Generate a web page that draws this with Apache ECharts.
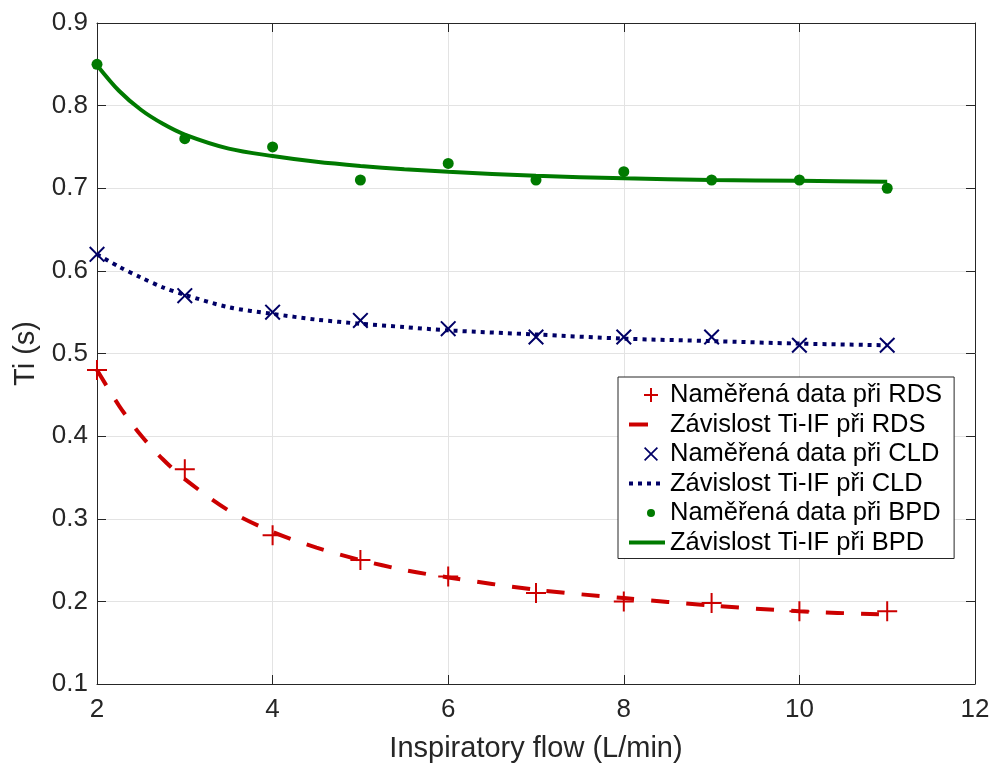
<!DOCTYPE html>
<html>
<head>
<meta charset="utf-8">
<script src="https://cdn.jsdelivr.net/npm/echarts@6/dist/echarts.min.js"></script>
<style>
html,body{margin:0;padding:0;background:#fff;}
#c{width:995px;height:769px;}
</style>
</head>
<body>
<div id="c"></div>
<script>
// ---- data ----
const flowMeasured = [2, 3, 4, 5, 6, 7, 8, 9, 10, 11];
const rdsMeasured = [0.48, 0.36, 0.28, 0.25, 0.23, 0.21, 0.20, 0.198, 0.188, 0.188];
const cldMeasured = [0.62, 0.57, 0.55, 0.54, 0.53, 0.52, 0.52, 0.52, 0.51, 0.51];
const bpdMeasured = [0.85, 0.76, 0.75, 0.71, 0.73, 0.71, 0.72, 0.71, 0.71, 0.70];

const flowFit = [2, 2.25, 2.5, 2.75, 3, 3.5, 4, 4.5, 5, 5.5, 6, 7, 8, 9, 10, 11];
const rdsFit = [0.480, 0.437, 0.401, 0.372, 0.348, 0.310, 0.284, 0.265, 0.250, 0.238, 0.229, 0.214, 0.204, 0.195, 0.188, 0.184];
const cldFit = [0.620, 0.605, 0.592, 0.580, 0.571, 0.556, 0.548, 0.541, 0.536, 0.532, 0.528, 0.523, 0.518, 0.515, 0.512, 0.510];
const bpdFit = [0.849, 0.818, 0.795, 0.778, 0.765, 0.748, 0.739, 0.732, 0.727, 0.723, 0.720, 0.715, 0.712, 0.710, 0.709, 0.708];

const xTicks = { min: 2, max: 12, interval: 2 };
const yTicks = { min: 0.1, max: 0.9, interval: 0.1 };

const names = [
  'Naměřená data při RDS',
  'Závislost Ti-IF při RDS',
  'Naměřená data při CLD',
  'Závislost Ti-IF při CLD',
  'Naměřená data při BPD',
  'Závislost Ti-IF při BPD'
];
const xName = 'Inspiratory flow (L/min)';
const yName = 'Ti (s)';

// ---- styles ----
const RED = '#CC0000', NAVY = '#000066', GREEN = '#007A00';
const AX = '#262626';
const FONT = '"Liberation Sans", Arial, sans-serif';

const pair = (xs, ys) => xs.map((x, i) => [x, ys[i]]);

const plusPath = 'path://M9,0 h2 v9 h9 v2 h-9 v9 h-2 v-9 h-9 v-2 h9 Z';
const crossPath = 'path://M0,1.41 L1.41,0 L8,6.59 L14.59,0 L16,1.41 L9.41,8 L16,14.59 L14.59,16 L8,9.41 L1.41,16 L0,14.59 L6.59,8 Z';

const PAD = 'M0,0 M36,20 ';
const legPlus = 'path://' + PAD + 'M21,3 h2 v6 h6 v2 h-6 v6 h-2 v-6 h-6 v-2 h6 Z';
const legCross = 'path://' + PAD + 'M15,4.2 L16.2,3 L22,8.8 L27.8,3 L29,4.2 L23.2,10 L29,15.8 L27.8,17 L22,11.2 L16.2,17 L15,15.8 L20.8,10 Z';
const legDot = 'path://' + PAD + 'M26,10 A4,4 0 1 1 18,10 A4,4 0 1 1 26,10 Z';
const legDash = 'path://' + PAD + 'M0,8 h19 v4 h-19 Z';
const legDots = 'path://' + PAD + 'M0,8 h4 v4 h-4 Z M9,8 h4 v4 h-4 Z M18,8 h4 v4 h-4 Z M27,8 h4 v4 h-4 Z';
const legLine = 'path://' + PAD + 'M0,8 h36 v4 h-36 Z';

const legendIcons = [legPlus, legDash, legCross, legDots, legDot, legLine];
const legendColors = [RED, RED, NAVY, NAVY, GREEN, GREEN];

const chart = echarts.init(document.getElementById('c'), null, { renderer: 'canvas' });

const axisCommon = {
  axisLine: { show: true, lineStyle: { color: AX, width: 1 } },
  axisTick: { show: true, inside: true, length: 9, lineStyle: { color: AX } },
};

const option = {
  animation: false,
  backgroundColor: '#fff',
  textStyle: { fontFamily: FONT },
  grid: { left: 97, right: 20, top: 23, bottom: 85, containLabel: false },
  xAxis: [
    Object.assign({
      type: 'value', position: 'bottom',
      min: xTicks.min, max: xTicks.max, interval: xTicks.interval,
      name: xName, nameLocation: 'middle', nameGap: 50,
      nameTextStyle: { fontSize: 29, color: AX, fontFamily: FONT },
      axisLabel: { fontSize: 26, color: AX, margin: 13, fontFamily: FONT },
      splitLine: { show: true, lineStyle: { color: '#e3e3e3', width: 1 } }
    }, axisCommon),
    Object.assign({
      type: 'value', position: 'top',
      min: xTicks.min, max: xTicks.max, interval: xTicks.interval,
      axisLabel: { show: false }, splitLine: { show: false }
    }, axisCommon)
  ],
  yAxis: [
    Object.assign({
      type: 'value', position: 'left',
      min: yTicks.min, max: yTicks.max, interval: yTicks.interval,
      name: yName, nameLocation: 'middle', nameGap: 54, nameRotate: 90,
      nameTextStyle: { fontSize: 29, color: AX, fontFamily: FONT },
      axisLabel: { fontSize: 26, color: AX, margin: 9, fontFamily: FONT,
        formatter: v => v.toFixed(1) },
      splitLine: { show: true, lineStyle: { color: '#e3e3e3', width: 1 } }
    }, axisCommon),
    Object.assign({
      type: 'value', position: 'right',
      min: yTicks.min, max: yTicks.max, interval: yTicks.interval,
      axisLabel: { show: false }, splitLine: { show: false }
    }, axisCommon)
  ],
  legend: {
    orient: 'vertical',
    left: 618, top: 377,
    itemWidth: 36, itemHeight: 20, itemGap: 3.5,
    padding: [5, 12, 3, 11],
    backgroundColor: '#fff',
    borderColor: AX, borderWidth: 1, borderRadius: 0,
    selectedMode: false,
    textStyle: { fontSize: 25.5, lineHeight: 25, color: '#000', fontFamily: FONT },
    itemStyle: { borderWidth: 0 },
    data: names.map((n, i) => ({
      name: n, icon: legendIcons[i],
      itemStyle: { color: legendColors[i], borderWidth: 0 }
    }))
  },
  series: [
    {
      name: names[0], type: 'scatter', data: pair(flowMeasured, rdsMeasured),
      symbol: plusPath, symbolSize: 20, z: 5,
      itemStyle: { color: RED, borderWidth: 0, opacity: 1 }
    },
    {
      name: names[1], type: 'line', data: pair(flowFit, rdsFit),
      symbol: 'none', smooth: 0.3, z: 4,
      lineStyle: { color: RED, width: 4, type: [18, 17], cap: 'butt' },
      itemStyle: { color: RED }
    },
    {
      name: names[2], type: 'scatter', data: pair(flowMeasured, cldMeasured),
      symbol: crossPath, symbolSize: 16, z: 5,
      itemStyle: { color: NAVY, borderWidth: 0, opacity: 1 }
    },
    {
      name: names[3], type: 'line', data: pair(flowFit, cldFit),
      symbol: 'none', smooth: 0.3, z: 4,
      lineStyle: { color: NAVY, width: 4, type: [4, 5], cap: 'butt' },
      itemStyle: { color: NAVY }
    },
    {
      name: names[4], type: 'scatter', data: pair(flowMeasured, bpdMeasured),
      symbol: 'circle', symbolSize: 11, z: 5,
      itemStyle: { color: GREEN, borderWidth: 0, opacity: 1 }
    },
    {
      name: names[5], type: 'line', data: pair(flowFit, bpdFit),
      symbol: 'none', smooth: 0.3, z: 4,
      lineStyle: { color: GREEN, width: 4, type: 'solid' },
      itemStyle: { color: GREEN }
    }
  ]
};
chart.setOption(option);
</script>
</body>
</html>
